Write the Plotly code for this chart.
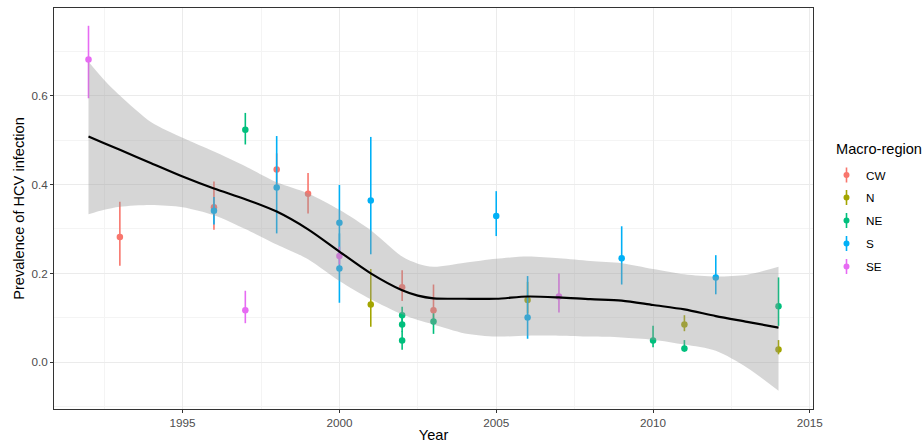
import plotly.graph_objects as go

# ---------------- data ----------------
regions = ["CW", "N", "NE", "S", "SE"]
colors = {"CW": "#F8766D", "N": "#A3A500", "NE": "#00BF7D", "S": "#00B0F6", "SE": "#E76BF3"}

cw_years = [1993, 1996, 1998, 1999, 2002, 2003]
cw_prev = [0.282, 0.349, 0.434, 0.379, 0.169, 0.117]
cw_low = [0.217, 0.298, 0.400, 0.335, 0.138, 0.090]
cw_high = [0.361, 0.407, 0.470, 0.426, 0.207, 0.175]

n_years = [2001, 2006, 2011, 2014]
n_prev = [0.130, 0.140, 0.085, 0.029]
n_low = [0.080, 0.110, 0.070, 0.018]
n_high = [0.210, 0.181, 0.106, 0.050]

ne_years = [1997, 2002, 2002, 2002, 2003, 2010, 2011, 2014]
ne_prev = [0.523, 0.106, 0.085, 0.049, 0.092, 0.049, 0.031, 0.126]
ne_low = [0.490, 0.090, 0.068, 0.028, 0.064, 0.034, 0.024, 0.082]
ne_high = [0.561, 0.125, 0.100, 0.070, 0.110, 0.082, 0.050, 0.191]

s_years = [1996, 1998, 2000, 2000, 2001, 2005, 2006, 2009, 2012]
s_prev = [0.341, 0.393, 0.314, 0.211, 0.364, 0.329, 0.101, 0.234, 0.191]
s_low = [0.310, 0.290, 0.245, 0.134, 0.243, 0.284, 0.053, 0.175, 0.153]
s_high = [0.372, 0.509, 0.399, 0.290, 0.507, 0.385, 0.194, 0.306, 0.241]

se_years = [1992, 1997, 2000, 2007]
se_prev = [0.681, 0.117, 0.239, 0.148]
se_low = [0.594, 0.088, 0.220, 0.112]
se_high = [0.757, 0.161, 0.260, 0.200]

smooth_years = [1992, 1992.5, 1993, 1994, 1995, 1996, 1997, 1998, 1999, 2000, 2001, 2002, 2002.5,
                2003, 2004, 2005, 2006, 2007, 2008, 2009, 2010, 2011, 2012, 2013, 2014]
smooth_fit = [0.508, 0.493, 0.478, 0.448, 0.418, 0.391, 0.367, 0.339, 0.299, 0.249, 0.200, 0.162, 0.150,
              0.144, 0.143, 0.143, 0.148, 0.146, 0.142, 0.139, 0.129, 0.119, 0.104, 0.091, 0.078]
smooth_low = [0.333, 0.343, 0.350, 0.354, 0.349, 0.331, 0.300, 0.265, 0.232, 0.183, 0.142, 0.108, 0.095,
              0.085, 0.065, 0.058, 0.060, 0.060, 0.058, 0.056, 0.051, 0.040, 0.026, -0.012, -0.064]
smooth_high = [0.676, 0.635, 0.600, 0.540, 0.505, 0.474, 0.441, 0.405, 0.380, 0.343, 0.297, 0.238, 0.222,
               0.215, 0.224, 0.233, 0.238, 0.234, 0.228, 0.223, 0.210, 0.198, 0.193, 0.197, 0.215]

series = {
    "CW": (cw_years, cw_prev, cw_low, cw_high),
    "N": (n_years, n_prev, n_low, n_high),
    "NE": (ne_years, ne_prev, ne_low, ne_high),
    "S": (s_years, s_prev, s_low, s_high),
    "SE": (se_years, se_prev, se_low, se_high),
}

FONT = "Liberation Sans, Arial, sans-serif"
TITLE_SIZE = 14.6
SMALL_SIZE = 11.7
fig = go.Figure()

for r in regions:
    yrs, p, lo, hi = series[r]
    fig.add_trace(go.Scatter(
        x=yrs, y=p, mode="markers", name=r, showlegend=False,
        marker=dict(color=colors[r], size=6.5),
        error_y=dict(type="data", symmetric=False,
                     array=[h - v for h, v in zip(hi, p)],
                     arrayminus=[v - l for v, l in zip(p, lo)],
                     color=colors[r], thickness=1.6, width=0),
    ))

# confidence ribbon
fig.add_trace(go.Scatter(x=smooth_years, y=smooth_low, mode="lines",
                         line=dict(width=0, shape="spline", smoothing=0.8),
                         showlegend=False, hoverinfo="skip"))
fig.add_trace(go.Scatter(x=smooth_years, y=smooth_high, mode="lines",
                         line=dict(width=0, shape="spline", smoothing=0.8),
                         fill="tonexty", fillcolor="rgba(153,153,153,0.4)",
                         showlegend=False, hoverinfo="skip"))
fig.add_trace(go.Scatter(x=smooth_years, y=smooth_fit, mode="lines",
                         line=dict(color="black", width=2.2, shape="spline", smoothing=0.8),
                         showlegend=False))

# manual legend (ggplot-style vertical key)
L, R, T, B = 54, 813, 8, 409
W, H = R - L, B - T
def px(x):
    return (x - L) / W
def py(y):
    return (B - y) / H

shapes = []
annotations = [dict(text="Macro-region", x=px(834), y=py(149), xref="paper", yref="paper",
                    xanchor="left", yanchor="middle", showarrow=False,
                    font=dict(family=FONT, size=TITLE_SIZE, color="black"))]
key_y = [175, 197.5, 220.5, 243.5, 266.5]
for r, ky in zip(regions, key_y):
    shapes.append(dict(type="line", xref="paper", yref="paper", x0=px(846.5), x1=px(846.5),
                       y0=py(ky - 7.5), y1=py(ky + 7.5), line=dict(color=colors[r], width=1.6)))
    shapes.append(dict(type="circle", xref="paper", yref="paper",
                       x0=px(843.5), x1=px(849.5), y0=py(ky + 3), y1=py(ky - 3),
                       fillcolor=colors[r], line=dict(color=colors[r], width=0)))
    annotations.append(dict(text=r, x=px(864), y=py(ky), xref="paper", yref="paper",
                            xanchor="left", yanchor="middle", showarrow=False,
                            font=dict(family=FONT, size=SMALL_SIZE, color="black")))

fig.update_layout(
    width=923, height=447,
    margin=dict(l=L, r=923 - R, t=T, b=447 - B),
    paper_bgcolor="white", plot_bgcolor="white",
    font=dict(family=FONT),
    shapes=shapes, annotations=annotations,
    showlegend=False,
)
fig.update_xaxes(
    automargin=False,
    range=[1990.9, 2015.1], tickmode="linear", tick0=1995, dtick=5,
    showgrid=True, gridcolor="#EBEBEB", gridwidth=1,
    minor=dict(tick0=1992.5, dtick=5, showgrid=True, gridcolor="#F4F4F4", gridwidth=0.8),
    ticks="outside", ticklen=3, tickcolor="#333333", tickwidth=1,
    tickfont=dict(family=FONT, size=SMALL_SIZE, color="#4D4D4D"),
    showline=True, linecolor="#333333", linewidth=1, mirror=True, zeroline=False,
    title=dict(text="Year", font=dict(family=FONT, size=TITLE_SIZE, color="black"), standoff=1),
)
fig.update_yaxes(
    automargin=False,
    range=[-0.105, 0.797], tickmode="array", tickvals=[0.0, 0.2, 0.4, 0.6],
    ticktext=["0.0", "0.2", "0.4", "0.6"],
    showgrid=True, gridcolor="#EBEBEB", gridwidth=1,
    minor=dict(tickmode="array", tickvals=[-0.1, 0.1, 0.3, 0.5, 0.7], showgrid=True,
               gridcolor="#F4F4F4", gridwidth=0.8),
    ticks="outside", ticklen=3, tickcolor="#333333", tickwidth=1,
    tickfont=dict(family=FONT, size=SMALL_SIZE, color="#4D4D4D"),
    showline=True, linecolor="#333333", linewidth=1, mirror=True, zeroline=False,
    title=dict(text="Prevalence of HCV infection", font=dict(family=FONT, size=TITLE_SIZE, color="black"),
               standoff=3),
)

fig.write_html("out.html", config={"displayModeBar": False},
               post_script="document.body.style.margin='0';")
